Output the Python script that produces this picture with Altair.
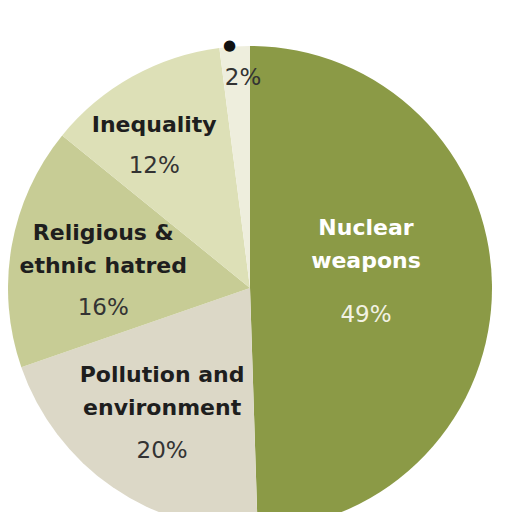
import altair as alt
import pandas as pd

# ---- data ----
categories = ["Nuclear weapons", "Pollution and environment",
              "Religious & ethnic hatred", "Inequality", "Other"]
values = [49, 20, 16, 12, 2]
name_labels = ["Nuclear\nweapons", "Pollution and\nenvironment",
               "Religious &\nethnic hatred", "Inequality", ""]
pct_labels = ["49%", "20%", "16%", "12%", "2%"]
slice_colors = ["#8b9a46", "#dcd8c7", "#c7cc95", "#dde0b7", "#eeeedd"]

df = pd.DataFrame({
    "category": categories,
    "value": values,
    "name": name_labels,
    "pct": pct_labels,
    "order": list(range(len(categories))),
})

OUTER = 242
W, H = 484, 560

# label placement (radius along the slice's mid-angle, plus small nudges)
layout = {
    "Nuclear weapons": dict(r=116, dx=0, ndy=-51, pdy=36, ncol="#ffffff", pcol="#f2f2e4"),
    "Pollution and environment": dict(r=155, dx=0, ndy=-34, pdy=42, ncol="#1e1e1e", pcol="#333333"),
    "Religious & ethnic hatred": dict(r=149, dx=0, ndy=-22, pdy=53, ncol="#1e1e1e", pcol="#333333"),
    "Inequality": dict(r=197, dx=0, ndy=16, pdy=57, ncol="#1e1e1e", pcol="#333333"),
    "Other": dict(r=203, dx=6, ndy=0, pdy=0, ncol="#1e1e1e", pcol="#333333"),
}

base = alt.Chart(df)

arcs = base.mark_arc(outerRadius=OUTER, stroke=None).encode(
    theta=alt.Theta("value:Q", stack=True),
    order=alt.Order("order:Q"),
    color=alt.Color("category:N",
                    scale=alt.Scale(domain=categories, range=slice_colors),
                    legend=None),
)


def mid_base(cat):
    return (base
            .transform_window(cum="sum(value)", sort=[alt.SortField("order")],
                              frame=[None, 0])
            .transform_calculate(mid="datum.cum - datum.value / 2")
            .transform_filter(alt.datum.category == cat))


layers = [arcs]
for cat in categories:
    L = layout[cat]
    b = mid_base(cat)
    if cat != "Other":
        layers.append(
            b.mark_text(radius=L["r"], dx=L["dx"], dy=L["ndy"], align="center",
                        baseline="alphabetic", font="DejaVu Sans", fontWeight="bold",
                        fontSize=22, lineHeight=33, lineBreak="\n",
                        color=L["ncol"]).encode(
                theta=alt.Theta("mid:Q", stack=False),
                text="name:N")
        )
    layers.append(
        b.mark_text(radius=L["r"], dx=L["dx"], dy=L["pdy"], align="center",
                    baseline="alphabetic", font="DejaVu Sans", fontSize=23,
                    color=L["pcol"]).encode(
            theta=alt.Theta("mid:Q", stack=False),
            text="pct:N")
    )

# small marker dot on the rim of the smallest slice
dot = mid_base("Other").mark_text(radius=OUTER + 1, dx=-5, align="center",
                                  baseline="middle", font="DejaVu Sans",
                                  fontSize=15, color="#111111").encode(
    theta=alt.Theta("mid:Q", stack=False),
    text=alt.value("●"))
layers.append(dot)

chart = alt.layer(*layers).properties(
    width=W, height=H,
    autosize=alt.AutoSizeParams(type="none"),
    padding=0,
).configure_view(stroke=None).configure(background="white")

chart.save("out.html", embed_options={"renderer": "svg", "actions": False})
